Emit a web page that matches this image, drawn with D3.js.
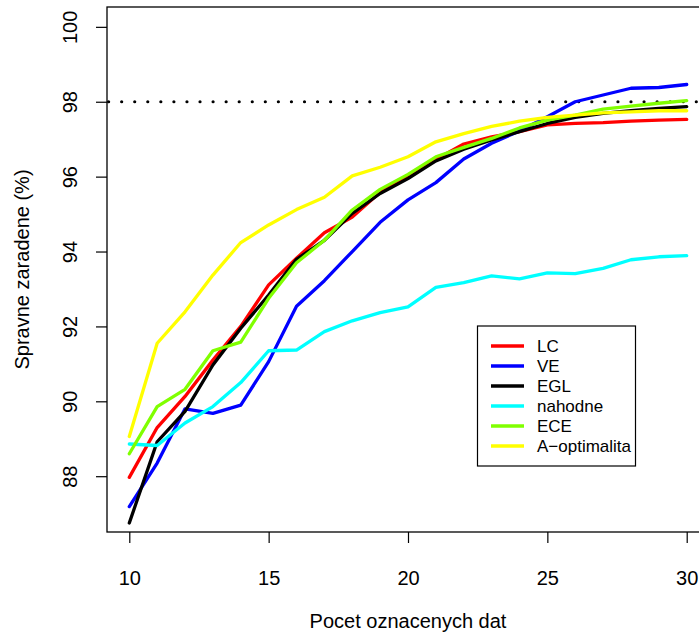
<!DOCTYPE html>
<html>
<head>
<meta charset="utf-8">
<script src="https://cdn.jsdelivr.net/npm/d3@7"></script>
<style>
  html, body { margin: 0; padding: 0; background: #fff; }
  svg { display: block; }
  text { font-family: "Liberation Sans", Arial, Helvetica, sans-serif; fill: #000; }
</style>
</head>
<body>
<svg id="chart" width="699" height="632"></svg>
<script>
const nLabeled = [10,11,12,13,14,15,16,17,18,19,20,21,22,23,24,25,26,27,28,29,30];

const lcValues   = [87.97,89.30,90.13,91.10,92.00,93.11,93.82,94.50,94.92,95.58,96.00,96.46,96.87,97.06,97.20,97.38,97.42,97.44,97.48,97.51,97.53];
const veValues   = [87.19,88.35,89.80,89.68,89.90,91.06,92.54,93.22,94.00,94.78,95.38,95.84,96.47,96.89,97.22,97.60,98.00,98.18,98.36,98.38,98.46];
const eglValues  = [86.75,88.92,89.73,90.97,91.95,92.84,93.79,94.30,95.02,95.55,95.95,96.42,96.73,96.98,97.20,97.42,97.58,97.69,97.76,97.82,97.87];
const randValues = [88.86,88.82,89.42,89.86,90.50,91.35,91.37,91.86,92.15,92.37,92.52,93.04,93.17,93.35,93.27,93.43,93.41,93.55,93.78,93.86,93.89];
const eceValues  = [88.60,89.86,90.32,91.35,91.58,92.75,93.70,94.30,95.11,95.66,96.06,96.53,96.78,97.02,97.30,97.51,97.64,97.80,97.88,97.96,98.03];
const aoptValues = [89.06,91.55,92.39,93.37,94.24,94.71,95.12,95.45,96.02,96.25,96.53,96.93,97.15,97.34,97.48,97.58,97.64,97.70,97.73,97.76,97.76];

const seriesNames  = ["LC","VE","EGL","nahodne","ECE","A\u2212optimalita"];
const seriesColors = ["#ff0000","#0000ff","#000000","#00ffff","#80ff00","#ffff00"];
const seriesData   = [lcValues, veValues, eglValues, randValues, eceValues, aoptValues];

const xTicks = [10,15,20,25,30];
const yTicks = [88,90,92,94,96,98,100];
const targetLevel = 98;

const xTitle = "Pocet oznacenych dat";
const yTitle = "Spravne zaradene (%)";

const svg = d3.select("#chart");
const L = 107, R = 709, T = 7, B = 532;
const FS = 20;

const x = d3.scaleLinear().domain([9.2, 30.8]).range([L, R]);
const y = d3.scaleLinear().domain([86.51, 100.53]).range([B, T]);

svg.append("defs").append("clipPath").attr("id","plotclip")
  .append("rect").attr("x", L).attr("y", T).attr("width", R - L).attr("height", B - T);

const plot = svg.append("g").attr("clip-path","url(#plotclip)");

// dotted reference line at 98
plot.append("line")
  .attr("x1", L + 1.6).attr("x2", R)
  .attr("y1", y(targetLevel)).attr("y2", y(targetLevel))
  .attr("stroke", "#000").attr("stroke-width", 3.2)
  .attr("stroke-linecap", "round")
  .attr("stroke-dasharray", "0.01,13.05");

const line = d3.line().x((d, i) => x(nLabeled[i])).y(d => y(d));

seriesData.forEach((vals, k) => {
  plot.append("path")
    .datum(vals)
    .attr("d", line)
    .attr("fill", "none")
    .attr("stroke", seriesColors[k])
    .attr("stroke-width", 3.3)
    .attr("stroke-linejoin", "round")
    .attr("stroke-linecap", "round");
});

// box
svg.append("rect").attr("x", L).attr("y", T).attr("width", R - L).attr("height", B - T)
  .attr("fill", "none").attr("stroke", "#000").attr("stroke-width", 1.3);

// x axis
const xAxis = svg.append("g").attr("transform", `translate(0,${B})`)
  .call(d3.axisBottom(x).tickValues(xTicks).tickSize(11).tickFormat(d3.format("d")));
xAxis.select(".domain").remove();
xAxis.selectAll(".tick line").attr("stroke", "#000").attr("stroke-width", 1.2);
xAxis.selectAll(".tick text")
  .attr("font-size", FS).attr("font-family", "Liberation Sans, Arial, sans-serif").attr("fill", "#000")
  .attr("dy", null).attr("y", 585 - B);

// y axis
const yAxis = svg.append("g").attr("transform", `translate(${L},0)`)
  .call(d3.axisLeft(y).tickValues(yTicks).tickSize(11).tickFormat(d3.format("d")));
yAxis.select(".domain").remove();
yAxis.selectAll(".tick line").attr("stroke", "#000").attr("stroke-width", 1.2);
yAxis.selectAll(".tick text")
  .attr("font-size", FS).attr("font-family", "Liberation Sans, Arial, sans-serif").attr("fill", "#000")
  .attr("text-anchor", "middle").attr("x", null).attr("dy", null)
  .attr("dominant-baseline", "central")
  .attr("transform", "translate(-37,0) rotate(-90)");

// axis titles
svg.append("text").attr("x", (L + R) / 2).attr("y", 628)
  .attr("text-anchor", "middle").attr("font-size", FS).text(xTitle);
svg.append("text").attr("transform", `translate(22,${(T + B) / 2}) rotate(-90)`)
  .attr("text-anchor", "middle").attr("dominant-baseline", "central").attr("font-size", FS).text(yTitle);

// legend
const legend = svg.append("g");
legend.append("rect").attr("x", 477.5).attr("y", 326).attr("width", 158).attr("height", 140)
  .attr("fill", "#fff").attr("stroke", "#000").attr("stroke-width", 1.2);
seriesNames.forEach((name, k) => {
  const ly = 346 + k * 20;
  legend.append("line").attr("x1", 491).attr("x2", 524).attr("y1", ly).attr("y2", ly)
    .attr("stroke", seriesColors[k]).attr("stroke-width", 3.3);
  legend.append("text").attr("x", 537).attr("y", ly).attr("dominant-baseline", "central")
    .attr("font-size", 17).text(name);
});
</script>
</body>
</html>
